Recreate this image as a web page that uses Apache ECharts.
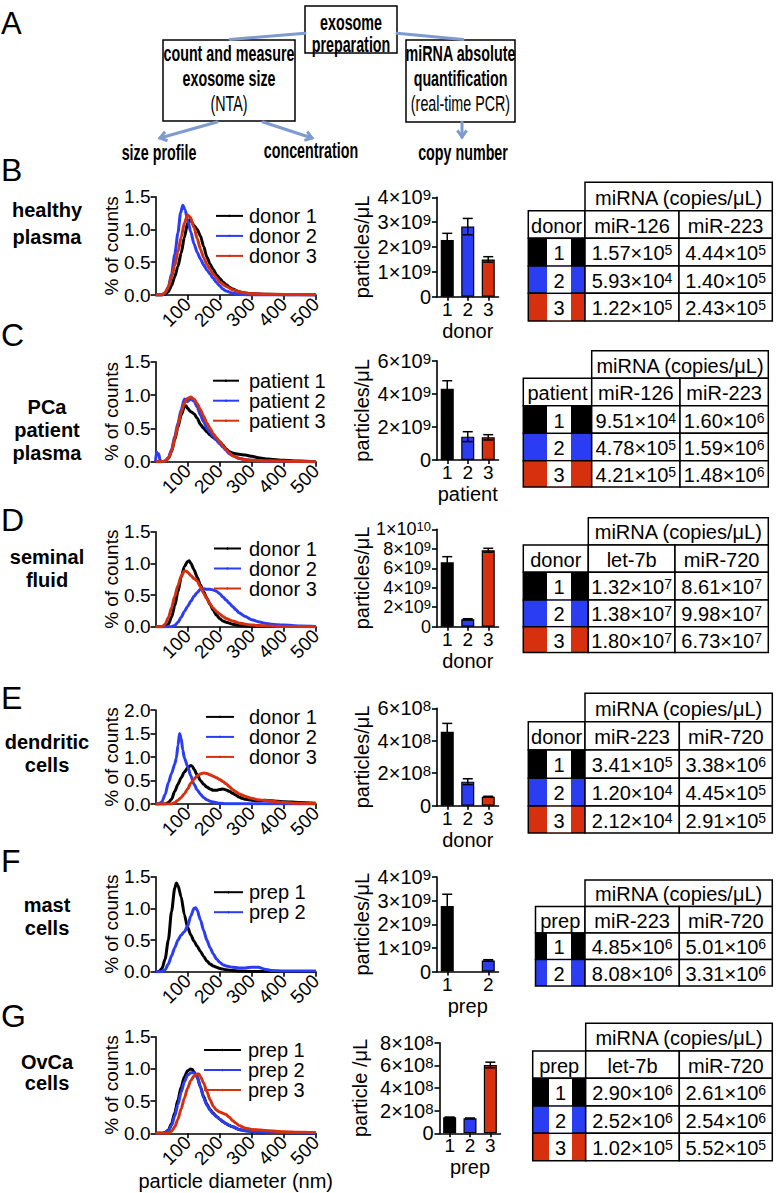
<!DOCTYPE html>
<html>
<head>
<meta charset="utf-8">
<title>Exosome characterization</title>
<script src="https://cdn.jsdelivr.net/npm/echarts@6.0.0/dist/echarts.min.js"></script>
<style>
html,body{margin:0;padding:0;background:#fff;}
#chart{width:780px;height:1193px;}
</style>
</head>
<body>
<div id="chart"></div>
<script>
const FONT = "'Liberation Sans', Arial, Helvetica, sans-serif";
const COLORS = ['#000000', '#2b3df2', '#d7300f'];
const ARROW_COLOR = '#7d9bcf';

// ---------- Panel A texts ----------
const A_TOP = ['exosome', 'preparation'];
const A_LEFT = ['count and measure', 'exosome size', '(NTA)'];
const A_RIGHT = ['miRNA absolute', 'quantification', '(real-time PCR)'];
const A_OUT = ['size profile', 'concentration', 'copy number'];
const TABLE_HEADER = 'miRNA (copies/\u03bcL)';

// ---------- B: healthy plasma ----------
const B_TITLE = ['healthy', 'plasma'];
const B_NAMES = ['donor 1', 'donor 2', 'donor 3'];
const B_SIZE_1 = [[0,0],[20,0],[30,0.01],[40,0.05],[50,0.14],[60,0.28],[70,0.44],[80,0.64],[90,0.88],[100,1.10],[106,1.15],[112,1.12],[120,1.06],[130,1.00],[140,0.90],[150,0.74],[160,0.58],[170,0.47],[180,0.39],[190,0.31],[200,0.25],[210,0.20],[220,0.16],[230,0.12],[240,0.09],[260,0.05],[280,0.03],[300,0.02],[350,0.01],[400,0.005],[500,0]];
const B_SIZE_2 = [[0,0],[20,0],[30,0.03],[40,0.12],[50,0.32],[60,0.62],[70,0.95],[78,1.25],[85,1.37],[92,1.30],[100,1.15],[110,0.96],[120,0.78],[130,0.65],[140,0.55],[150,0.46],[160,0.38],[170,0.32],[180,0.25],[190,0.19],[200,0.14],[210,0.09],[220,0.06],[240,0.03],[260,0.01],[300,0],[500,0]];
const B_SIZE_3 = [[0,0],[20,0],[30,0.04],[40,0.12],[50,0.27],[60,0.45],[70,0.66],[80,0.88],[90,1.10],[100,1.22],[108,1.19],[120,1.03],[130,0.86],[140,0.70],[150,0.57],[160,0.47],[170,0.39],[180,0.32],[190,0.26],[200,0.20],[220,0.13],[240,0.08],[260,0.05],[280,0.03],[300,0.02],[350,0.012],[400,0.008],[500,0.005]];
const B_CATS = ['1', '2', '3'];
const B_CONC = [2.28e9, 2.82e9, 1.50e9];
const B_ERR = [0.27e9, 0.33e9, 0.11e9];
const B_TICKS = ['0', '1\u00d710\u2079', '2\u00d710\u2079', '3\u00d710\u2079', '4\u00d710\u2079'];
const B_ROWHEAD = 'donor';
const B_MIRNA = ['miR-126', 'miR-223'];
const B_COPIES = [[1.57e5, 4.44e5], [5.93e4, 1.40e5], [1.22e5, 2.43e5]];

// ---------- C: PCa patient plasma ----------
const C_TITLE = ['PCa', 'patient', 'plasma'];
const C_NAMES = ['patient 1', 'patient 2', 'patient 3'];
const C_SIZE_1 = [[0,0],[20,0],[30,0.01],[40,0.05],[50,0.15],[60,0.33],[70,0.52],[80,0.70],[90,0.82],[95,0.84],[100,0.80],[110,0.75],[120,0.72],[130,0.65],[140,0.56],[150,0.50],[160,0.45],[170,0.40],[180,0.36],[190,0.33],[200,0.30],[210,0.25],[220,0.19],[230,0.15],[240,0.13],[250,0.12],[260,0.11],[280,0.10],[300,0.08],[320,0.06],[350,0.04],[400,0.02],[450,0.01],[500,0]];
const C_SIZE_2 = [[0,0],[3,0.15],[6,0.10],[10,0.12],[14,0.02],[20,0],[30,0.01],[40,0.06],[50,0.18],[60,0.38],[70,0.58],[80,0.78],[90,0.94],[95,0.93],[100,0.90],[110,0.94],[120,0.91],[130,0.82],[140,0.70],[150,0.60],[160,0.50],[170,0.44],[180,0.38],[190,0.32],[200,0.27],[210,0.22],[220,0.17],[230,0.12],[240,0.09],[260,0.05],[280,0.03],[300,0.02],[350,0.01],[500,0]];
const C_SIZE_3 = [[0,0],[20,0],[30,0.01],[40,0.05],[50,0.16],[60,0.35],[70,0.55],[80,0.74],[90,0.88],[100,0.95],[110,0.97],[120,0.94],[130,0.87],[140,0.78],[150,0.68],[160,0.58],[170,0.50],[180,0.42],[190,0.36],[200,0.30],[210,0.24],[220,0.18],[230,0.13],[240,0.09],[260,0.05],[280,0.03],[300,0.02],[350,0.01],[500,0]];
const C_CATS = ['1', '2', '3'];
const C_CONC = [4.31e9, 1.41e9, 1.37e9];
const C_ERR = [0.48e9, 0.30e9, 0.16e9];
const C_TICKS = ['0', '2\u00d710\u2079', '4\u00d710\u2079', '6\u00d710\u2079'];
const C_ROWHEAD = 'patient';
const C_MIRNA = ['miR-126', 'miR-223'];
const C_COPIES = [[9.51e4, 1.60e6], [4.78e5, 1.59e6], [4.21e5, 1.48e6]];

// ---------- D: seminal fluid ----------
const D_TITLE = ['seminal', 'fluid'];
const D_NAMES = ['donor 1', 'donor 2', 'donor 3'];
const D_SIZE_1 = [[0,0],[30,0],[40,0.04],[50,0.15],[60,0.33],[70,0.55],[80,0.78],[90,0.95],[100,1.03],[105,1.04],[110,1.00],[120,0.90],[130,0.78],[140,0.66],[150,0.55],[160,0.45],[170,0.35],[180,0.26],[190,0.18],[200,0.13],[210,0.09],[220,0.07],[240,0.04],[260,0.02],[280,0.01],[300,0.005],[500,0]];
const D_SIZE_2 = [[0,0],[50,0],[60,0.02],[70,0.07],[80,0.15],[90,0.24],[100,0.32],[110,0.40],[120,0.48],[130,0.54],[140,0.59],[150,0.60],[160,0.59],[170,0.59],[180,0.58],[190,0.56],[200,0.52],[210,0.47],[220,0.42],[230,0.37],[240,0.32],[250,0.27],[260,0.22],[280,0.16],[300,0.11],[320,0.08],[340,0.055],[360,0.04],[380,0.03],[400,0.025],[450,0.01],[500,0.005]];
const D_SIZE_3 = [[0,0],[20,0],[30,0.04],[40,0.14],[50,0.30],[60,0.48],[70,0.65],[80,0.80],[90,0.88],[95,0.88],[100,0.86],[110,0.81],[120,0.76],[130,0.72],[140,0.63],[150,0.53],[160,0.44],[170,0.36],[180,0.29],[190,0.24],[200,0.20],[210,0.16],[220,0.13],[240,0.09],[260,0.06],[280,0.04],[300,0.025],[350,0.01],[400,0.005],[500,0]];
const D_CATS = ['1', '2', '3'];
const D_CONC = [6.61e9, 0.76e9, 7.85e9];
const D_ERR = [0.58e9, 0.06e9, 0.20e9];
const D_TICKS = ['0', '2\u00d710\u2079', '4\u00d710\u2079', '6\u00d710\u2079', '8\u00d710\u2079', '1\u00d710\u00b9\u2070'];
const D_ROWHEAD = 'donor';
const D_MIRNA = ['let-7b', 'miR-720'];
const D_COPIES = [[1.32e7, 8.61e7], [1.38e7, 9.98e7], [1.80e7, 6.73e7]];

// ---------- E: dendritic cells ----------
const E_TITLE = ['dendritic', 'cells'];
const E_NAMES = ['donor 1', 'donor 2', 'donor 3'];
const E_SIZE_1 = [[0,0],[30,0],[40,0.03],[50,0.10],[60,0.27],[70,0.42],[80,0.56],[90,0.68],[100,0.77],[110,0.82],[115,0.80],[120,0.74],[130,0.62],[140,0.50],[150,0.42],[160,0.36],[170,0.32],[180,0.29],[190,0.29],[200,0.31],[210,0.32],[220,0.30],[230,0.27],[240,0.23],[250,0.19],[260,0.15],[270,0.12],[280,0.10],[300,0.08],[320,0.07],[340,0.08],[360,0.07],[380,0.06],[400,0.05],[450,0.03],[500,0.015]];
const E_SIZE_2 = [[0,0],[10,0],[20,0.05],[30,0.20],[40,0.45],[50,0.65],[60,0.85],[65,0.98],[70,1.25],[75,1.50],[80,1.40],[85,1.15],[90,0.98],[100,0.80],[110,0.60],[120,0.42],[130,0.30],[140,0.21],[150,0.14],[160,0.09],[170,0.06],[180,0.04],[200,0.015],[220,0.005],[500,0]];
const E_SIZE_3 = [[0,0],[50,0],[60,0.03],[70,0.08],[80,0.14],[90,0.22],[100,0.32],[110,0.44],[120,0.53],[130,0.60],[140,0.64],[150,0.66],[160,0.65],[170,0.62],[180,0.59],[190,0.56],[200,0.52],[210,0.48],[220,0.43],[230,0.37],[240,0.31],[250,0.26],[260,0.22],[270,0.19],[280,0.16],[300,0.12],[320,0.09],[340,0.075],[360,0.06],[380,0.045],[400,0.03],[450,0.015],[500,0.01]];
const E_CATS = ['1', '2', '3'];
const E_CONC = [4.56e8, 1.48e8, 0.55e8];
const E_ERR = [0.51e8, 0.18e8, 0.03e8];
const E_TICKS = ['0', '2\u00d710\u2078', '4\u00d710\u2078', '6\u00d710\u2078'];
const E_ROWHEAD = 'donor';
const E_MIRNA = ['miR-223', 'miR-720'];
const E_COPIES = [[3.41e5, 3.38e6], [1.20e4, 4.45e5], [2.12e4, 2.91e5]];

// ---------- F: mast cells ----------
const F_TITLE = ['mast', 'cells'];
const F_NAMES = ['prep 1', 'prep 2'];
const F_SIZE_1 = [[0,0],[10,0],[20,0.05],[30,0.20],[40,0.50],[50,0.95],[60,1.32],[65,1.40],[70,1.36],[80,1.18],[90,0.90],[100,0.70],[110,0.58],[120,0.48],[130,0.40],[140,0.32],[150,0.24],[160,0.17],[170,0.12],[180,0.09],[190,0.07],[200,0.05],[220,0.03],[240,0.02],[260,0.01],[300,0.005],[500,0]];
const F_SIZE_2 = [[0,0],[20,0],[30,0.03],[40,0.12],[50,0.25],[60,0.38],[70,0.50],[80,0.58],[90,0.63],[100,0.72],[110,0.88],[120,1.00],[125,1.01],[130,0.97],[140,0.82],[150,0.65],[160,0.50],[170,0.38],[180,0.28],[190,0.20],[200,0.15],[210,0.11],[220,0.09],[240,0.07],[260,0.06],[280,0.06],[300,0.07],[320,0.07],[340,0.04],[360,0.02],[400,0.01],[500,0.01]];
const F_CATS = ['1', '2'];
const F_CONC = [2.77e9, 0.47e9];
const F_ERR = [0.50e9, 0.03e9];
const F_TICKS = ['0', '1\u00d710\u2079', '2\u00d710\u2079', '3\u00d710\u2079', '4\u00d710\u2079'];
const F_ROWHEAD = 'prep';
const F_MIRNA = ['miR-223', 'miR-720'];
const F_COPIES = [[4.85e6, 5.01e6], [8.08e6, 3.31e6]];

// ---------- G: OvCa cells ----------
const G_TITLE = ['OvCa', 'cells'];
const G_NAMES = ['prep 1', 'prep 2', 'prep 3'];
const G_SIZE_1 = [[0,0],[20,0],[30,0.01],[40,0.05],[50,0.15],[60,0.32],[70,0.52],[80,0.72],[90,0.88],[100,0.97],[110,1.00],[115,0.99],[120,0.95],[130,0.87],[140,0.72],[150,0.57],[160,0.45],[170,0.37],[180,0.31],[190,0.26],[200,0.22],[210,0.18],[220,0.15],[230,0.12],[240,0.10],[260,0.06],[280,0.04],[300,0.03],[350,0.015],[400,0.01],[500,0]];
const G_SIZE_2 = [[0,0],[20,0],[30,0.01],[40,0.04],[50,0.12],[60,0.27],[70,0.45],[80,0.64],[90,0.80],[100,0.90],[110,0.94],[120,0.94],[130,0.88],[140,0.72],[150,0.55],[160,0.44],[170,0.36],[180,0.30],[190,0.26],[200,0.22],[220,0.15],[240,0.10],[260,0.06],[280,0.04],[300,0.03],[350,0.015],[400,0.01],[500,0]];
const G_SIZE_3 = [[0,0],[40,0],[50,0.03],[60,0.10],[70,0.22],[80,0.38],[90,0.55],[100,0.70],[110,0.82],[120,0.89],[130,0.92],[135,0.92],[140,0.88],[150,0.78],[160,0.65],[170,0.52],[180,0.42],[190,0.36],[200,0.33],[210,0.31],[220,0.29],[230,0.25],[240,0.20],[250,0.16],[260,0.12],[280,0.08],[300,0.06],[350,0.04],[400,0.025],[450,0.015],[500,0.01]];
const G_CATS = ['1', '2', '3'];
const G_CONC = [1.41e8, 1.32e8, 6.03e8];
const G_ERR = [0.02e8, 0.03e8, 0.25e8];
const G_TICKS = ['0', '2\u00d710\u2078', '4\u00d710\u2078', '6\u00d710\u2078', '8\u00d710\u2078'];
const G_ROWHEAD = 'prep';
const G_MIRNA = ['let-7b', 'miR-720'];
const G_COPIES = [[2.90e6, 2.61e6], [2.52e6, 2.54e6], [1.02e5, 5.52e5]];

// ---------- panel definitions (data refs + axis ranges) ----------
const PANELS = [
  {id:'B', title:B_TITLE, names:B_NAMES, sizes:[B_SIZE_1,B_SIZE_2,B_SIZE_3], yMax:1.5, cats:B_CATS, conc:B_CONC, err:B_ERR, ticks:B_TICKS, barMax:4e9, barInt:1e9, barY:'particles/\u03bcL', barX:'donor', rowHead:B_ROWHEAD, mirna:B_MIRNA, copies:B_COPIES},
  {id:'C', title:C_TITLE, names:C_NAMES, sizes:[C_SIZE_1,C_SIZE_2,C_SIZE_3], yMax:1.5, cats:C_CATS, conc:C_CONC, err:C_ERR, ticks:C_TICKS, barMax:6e9, barInt:2e9, barY:'particles/\u03bcL', barX:'patient', rowHead:C_ROWHEAD, mirna:C_MIRNA, copies:C_COPIES},
  {id:'D', title:D_TITLE, names:D_NAMES, sizes:[D_SIZE_1,D_SIZE_2,D_SIZE_3], yMax:1.5, cats:D_CATS, conc:D_CONC, err:D_ERR, ticks:D_TICKS, barMax:1e10, barInt:2e9, barY:'particles/\u03bcL', barX:'donor', rowHead:D_ROWHEAD, mirna:D_MIRNA, copies:D_COPIES},
  {id:'E', title:E_TITLE, names:E_NAMES, sizes:[E_SIZE_1,E_SIZE_2,E_SIZE_3], yMax:2.0, cats:E_CATS, conc:E_CONC, err:E_ERR, ticks:E_TICKS, barMax:6e8, barInt:2e8, barY:'particles/\u03bcL', barX:'donor', rowHead:E_ROWHEAD, mirna:E_MIRNA, copies:E_COPIES},
  {id:'F', title:F_TITLE, names:F_NAMES, sizes:[F_SIZE_1,F_SIZE_2], yMax:1.5, cats:F_CATS, conc:F_CONC, err:F_ERR, ticks:F_TICKS, barMax:4e9, barInt:1e9, barY:'particles/\u03bcL', barX:'prep', rowHead:F_ROWHEAD, mirna:F_MIRNA, copies:F_COPIES},
  {id:'G', title:G_TITLE, names:G_NAMES, sizes:[G_SIZE_1,G_SIZE_2,G_SIZE_3], yMax:1.5, cats:G_CATS, conc:G_CONC, err:G_ERR, ticks:G_TICKS, barMax:8e8, barInt:2e8, barY:'particle /\u03bcL', barX:'prep', rowHead:G_ROWHEAD, mirna:G_MIRNA, copies:G_COPIES, lineX:'particle diameter (nm)'}
];

// ---------- layout (pixels) ----------
const LAYOUT = {
  B:{letterY:170, titleY:[210,236.7], line:[196.7,98.3], bar:[437,197.3,61.5,99.4], barNameGap:65, barFs:[20,15], slots:[0,1,2],
     legend:{left:215,top:205.9,lh:18.3,w:27,pad:1},
     table:{x:[528.3,585,679,772.3], y:[182.3,210.7,238.3,266,293.3,321], wb:[547,571]}},
  C:{letterY:335, titleY:[406.7,430,452.7], line:[361.7,100], bar:[437,360.7,61.5,99.3], barNameGap:65, barFs:[20,15], slots:[0,1,2],
     legend:{left:212,top:370.7,lh:20,w:26,pad:5},
     table:{x:[523.3,591.7,680,768.3], y:[350.7,378.3,405.7,433.3,460.7,487], wb:[547,571]}},
  D:{letterY:520, titleY:[556.7,580], line:[531.7,95], bar:[437,529.3,61.5,97.4], barNameGap:65, barFs:[18,13], slots:[0,1,2],
     legend:{left:213,top:538.5,lh:17.7,w:27,pad:3},
     table:{x:[523.3,588.3,675,768.3], y:[517.7,545,572.3,600,626.7,652.5], wb:[547,571]}},
  E:{letterY:698, titleY:[741.7,765], line:[710,94], bar:[437,708.3,61.5,97.4], barNameGap:65, barFs:[20,15], slots:[0,1,2],
     legend:{left:205,top:706.9,lh:19.6,w:28,pad:10},
     table:{x:[528.3,585,679.3,772.3], y:[693.3,721.7,750,778.3,806,833], wb:[547,571]}},
  F:{letterY:861, titleY:[905,928], line:[876.7,95], bar:[437,877,61.5,94.5], barNameGap:65, barFs:[20,15], slots:[0,2],
     legend:{left:213,top:882.2,lh:19,w:29,pad:1},
     table:{x:[535.5,585,679.3,772.3], y:[880,906.5,933,959.5,986], wb:[547,571]}},
  G:{letterY:1016, titleY:[1062,1083], line:[1036.7,96.6], bar:[439.5,1042.7,61,90.6], barNameGap:70, barFs:[20,15], slots:[0,1,2],
     legend:{left:203,top:1040,lh:20,w:37,pad:2},
     table:{x:[532.7,585.7,679.3,772.3], y:[1023.3,1051,1078.3,1106,1133.3,1160.7], wb:[549,572]}}
};

// ---------- helpers ----------
const SUP = {'0':'\u2070','1':'\u00b9','2':'\u00b2','3':'\u00b3','4':'\u2074','5':'\u2075','6':'\u2076','7':'\u2077','8':'\u2078','9':'\u2079'};
const UNSUP = {};
Object.keys(SUP).forEach(k => { UNSUP[SUP[k]] = k; });
// "4×10⁹" -> rich text "{m|4×10}{s|9}"
function richSci(str) {
  const i = str.indexOf('\u00d710');
  if (i < 0) return '{m|' + str + '}';
  const base = str.slice(0, i + 3);
  const exp = str.slice(i + 3).split('').map(c => UNSUP[c] || c).join('');
  return '{m|' + base + '}{s|' + exp + '}';
}
// 1.57e5 -> rich text "{m|1.57×10}{s|5}"
function sciRich(v) {
  const parts = v.toExponential(2).split('e');
  return '{m|' + parts[0] + '\u00d710}{s|' + parseInt(parts[1], 10) + '}';
}
function richStyles(fs, sfs) {
  return {
    m:{fontSize:fs, fontFamily:FONT, fill:'#000', color:'#000'},
    s:{fontSize:sfs, fontFamily:FONT, fill:'#000', color:'#000', verticalAlign:'top'}
  };
}
function T(str, x, y, o) {
  o = o || {};
  const style = {text:str, x:0, y:0, fill:'#000', fontFamily:FONT, fontSize:o.fs || 20,
    fontWeight:o.fw || 'normal', align:o.align || 'center', verticalAlign:'middle'};
  if (o.rich) style.rich = o.rich;
  return {type:'text', x:x, y:y, scaleX:o.sx || 1, z:o.z || 100, silent:true, style:style};
}
function R(x, y, w, h, fill, stroke, z) {
  return {type:'rect', z:z || 50, silent:true, shape:{x:x, y:y, width:w, height:h},
    style:{fill:fill, stroke:stroke || null, lineWidth:stroke ? 1.5 : 0}};
}
function LN(x1, y1, x2, y2, color, w) {
  return {type:'line', z:60, silent:true, shape:{x1:x1, y1:y1, x2:x2, y2:y2},
    style:{stroke:color, lineWidth:w, lineCap:'round'}};
}
function ARROW(x1, y1, x2, y2) {
  const dx = x2 - x1, dy = y2 - y1, L = Math.hypot(dx, dy), bx = -dx / L, by = -dy / L;
  const a = 0.62, h = 8, c = Math.cos(a), s = Math.sin(a);
  const p1 = [x2 + h * (bx * c - by * s), y2 + h * (bx * s + by * c)];
  const p2 = [x2 + h * (bx * c + by * s), y2 + h * (-bx * s + by * c)];
  return [LN(x1, y1, x2, y2, ARROW_COLOR, 3),
    {type:'polyline', z:60, silent:true, shape:{points:[p1, [x2, y2], p2]},
     style:{stroke:ARROW_COLOR, lineWidth:3, fill:null, lineJoin:'miter'}}];
}

const TABLE_RICH = richStyles(20, 14);
function tableEls(p, t) {
  const els = [];
  const x = t.x, y = t.y, nRows = p.copies.length;
  els.push(R(x[1], y[0], x[3] - x[1], y[1] - y[0], '#fff', '#000'));
  els.push(T(TABLE_HEADER, (x[1] + x[3]) / 2, (y[0] + y[1]) / 2 + 1, {fs:20}));
  els.push(R(x[0], y[1], x[1] - x[0], y[2] - y[1], '#fff', '#000'));
  els.push(T(p.rowHead, (x[0] + x[1]) / 2, (y[1] + y[2]) / 2 + 1, {fs:20}));
  for (let c = 0; c < 2; c++) {
    els.push(R(x[c + 1], y[1], x[c + 2] - x[c + 1], y[2] - y[1], '#fff', '#000'));
    els.push(T(p.mirna[c], (x[c + 1] + x[c + 2]) / 2, (y[1] + y[2]) / 2 + 1, {fs:20}));
  }
  for (let r = 0; r < nRows; r++) {
    const top = y[2 + r], bot = y[3 + r], mid = (top + bot) / 2 + 1;
    els.push(R(x[0], top, x[1] - x[0], bot - top, COLORS[r], '#000'));
    els.push(R(t.wb[0], top + 0.75, t.wb[1] - t.wb[0], bot - top - 1.5, '#fff', null, 55));
    els.push(T(String(r + 1), (t.wb[0] + t.wb[1]) / 2, mid, {fs:20}));
    for (let c = 0; c < 2; c++) {
      els.push(R(x[c + 1], top, x[c + 2] - x[c + 1], bot - top, '#fff', '#000'));
      els.push(T(sciRich(p.copies[r][c]), (x[c + 1] + x[c + 2]) / 2, mid, {fs:20, rich:TABLE_RICH}));
    }
  }
  return els;
}

// ---------- build option ----------
const AX_LINE = {show:true, onZero:false, lineStyle:{color:'#000', width:1.6}};
const AX_TICK = {show:true, length:5, lineStyle:{color:'#000', width:1.6}};
const grid = [], xAxis = [], yAxis = [], series = [], legend = [], gfx = [];

PANELS.forEach((p, k) => {
  const Lp = LAYOUT[p.id];
  const li = 2 * k, bi = 2 * k + 1;
  grid.push({left:155.5, top:Lp.line[0], width:160.5, height:Lp.line[1], outerBoundsMode:'none', containLabel:false});
  grid.push({left:Lp.bar[0], top:Lp.bar[1], width:Lp.bar[2], height:Lp.bar[3], outerBoundsMode:'none', containLabel:false});

  xAxis.push({gridIndex:li, type:'value', min:0, max:500, interval:100,
    axisLine:AX_LINE, axisTick:AX_TICK, splitLine:{show:false},
    axisLabel:{show:true, rotate:45, fontSize:19, color:'#000', fontFamily:FONT, margin:6, showMinLabel:false, showMaxLabel:true},
    name:p.lineX || '', nameLocation:'middle', nameGap:38, nameMoveOverlap:false,
    nameTextStyle:{fontSize:20, color:'#000', fontFamily:FONT}});
  yAxis.push({gridIndex:li, type:'value', min:0, max:p.yMax, interval:0.5,
    axisLine:AX_LINE, axisTick:AX_TICK, splitLine:{show:false},
    axisLabel:{show:true, fontSize:19, color:'#000', fontFamily:FONT, margin:5, showMinLabel:true, showMaxLabel:true,
      formatter:v => v.toFixed(1)},
    name:'% of counts', nameLocation:'middle', nameGap:35, nameMoveOverlap:false,
    nameTextStyle:{fontSize:19, color:'#000', fontFamily:FONT}});

  // category slots: place each category in its slot (F leaves the middle slot empty)
  const nSlots = 3;
  const slotCats = new Array(nSlots).fill('');
  const slotVals = new Array(nSlots).fill('-');
  Lp.slots.forEach((s, i) => { slotCats[s] = p.cats[i]; slotVals[s] = {value:p.conc[i], itemStyle:{color:COLORS[i]}}; });

  xAxis.push({gridIndex:bi, type:'category', data:slotCats,
    axisLine:AX_LINE,
    axisTick:{show:true, alignWithLabel:true, length:4, lineStyle:{color:'#000', width:1.6},
      interval:(idx, val) => val !== ''},
    axisLabel:{show:true, fontSize:19, color:'#000', fontFamily:FONT, margin:3, interval:0},
    splitLine:{show:false},
    name:p.barX, nameLocation:'middle', nameGap:24, nameMoveOverlap:false,
    nameTextStyle:{fontSize:20, color:'#000', fontFamily:FONT}});
  yAxis.push({gridIndex:bi, type:'value', min:0, max:p.barMax, interval:p.barInt,
    axisLine:AX_LINE, axisTick:AX_TICK, splitLine:{show:false},
    axisLabel:{show:true, fontSize:Lp.barFs[0], color:'#000', fontFamily:FONT, margin:6,
      showMinLabel:true, showMaxLabel:true, hideOverlap:false,
      formatter:v => richSci(p.ticks[Math.round(v / p.barInt)]), rich:richStyles(Lp.barFs[0], Lp.barFs[1])},
    name:p.barY, nameLocation:'middle', nameGap:Lp.barNameGap, nameMoveOverlap:false,
    nameTextStyle:{fontSize:20, color:'#000', fontFamily:FONT}});

  p.sizes.forEach((d, i) => {
    series.push({type:'line', name:p.names[i], xAxisIndex:li, yAxisIndex:li, data:d,
      symbol:'none', smooth:0.25, smoothMonotone:'x', clip:true, z:2 + i,
      lineStyle:{width:3, color:COLORS[i]}, itemStyle:{color:COLORS[i]},
      emphasis:{disabled:true}, silent:true});
  });
  series.push({type:'bar', xAxisIndex:bi, yAxisIndex:bi, barWidth:13, silent:true,
    data:slotVals,
    itemStyle:{borderColor:'#000', borderWidth:1.2}, emphasis:{disabled:true}, z:2});
  series.push({type:'custom', xAxisIndex:bi, yAxisIndex:bi, silent:true, z:5, clip:false,
    encode:{x:0, y:1},
    data:p.conc.map((v, i) => [Lp.slots[i], v, p.err[i]]),
    renderItem:(params, api) => {
      const i = api.value(0), v = api.value(1), e = api.value(2);
      const hi = api.coord([i, v + e]), lo = api.coord([i, v - e]);
      const w = 5, st = {stroke:'#000', lineWidth:1.5};
      return {type:'group', children:[
        {type:'line', shape:{x1:hi[0], y1:lo[1], x2:hi[0], y2:hi[1]}, style:st},
        {type:'line', shape:{x1:hi[0] - w, y1:hi[1], x2:hi[0] + w, y2:hi[1]}, style:st},
        {type:'line', shape:{x1:lo[0] - w, y1:lo[1], x2:lo[0] + w, y2:lo[1]}, style:st}
      ]};
    }});

  const lg = Lp.legend;
  legend.push({data:p.names, orient:'vertical', left:lg.left, top:lg.top, padding:0, itemGap:0,
    itemWidth:lg.w, itemHeight:3, selectedMode:false,
    textStyle:{fontSize:20, color:'#000', fontFamily:FONT, lineHeight:lg.lh, padding:[0, 0, 0, lg.pad]}});

  gfx.push(T(p.id, 1, Lp.letterY, {fs:32, align:'left'}));
  p.title.forEach((s, i) => gfx.push(T(s, 47, Lp.titleY[i], {fs:20, fw:'bold'})));
  tableEls(p, Lp.table).forEach(e => gfx.push(e));
});

// ---------- Panel A diagram ----------
const SX = 0.65;
gfx.push(T('A', 1, 23, {fs:31, align:'left'}));
gfx.push(R(305, 6, 92, 47, '#fff', '#000'));
gfx.push(T(A_TOP[0], 351, 22, {fs:22, fw:'bold', sx:SX}));
gfx.push(T(A_TOP[1], 351, 44, {fs:22, fw:'bold', sx:SX}));
gfx.push(R(163, 40, 132, 81, '#fff', '#000'));
gfx.push(T(A_LEFT[0], 229, 53, {fs:22, fw:'bold', sx:SX}));
gfx.push(T(A_LEFT[1], 229, 78, {fs:22, fw:'bold', sx:SX}));
gfx.push(T(A_LEFT[2], 229, 103, {fs:22, sx:SX}));
gfx.push(R(406, 40, 109, 82, '#fff', '#000'));
gfx.push(T(A_RIGHT[0], 460.5, 53, {fs:22, fw:'bold', sx:SX}));
gfx.push(T(A_RIGHT[1], 460.5, 78, {fs:22, fw:'bold', sx:SX}));
gfx.push(T(A_RIGHT[2], 460.5, 103, {fs:22, sx:SX}));
gfx.push(LN(230, 39.5, 305, 33.3, ARROW_COLOR, 3));
gfx.push(LN(397, 33.3, 463, 39.5, ARROW_COLOR, 3));
ARROW(217, 122, 160, 138).forEach(e => gfx.push(e));
ARROW(263, 122, 312, 138).forEach(e => gfx.push(e));
ARROW(462, 122, 462, 137).forEach(e => gfx.push(e));
gfx.push(T(A_OUT[0], 159, 152, {fs:22, fw:'bold', sx:SX}));
gfx.push(T(A_OUT[1], 311, 150, {fs:22, fw:'bold', sx:SX}));
gfx.push(T(A_OUT[2], 463, 152, {fs:22, fw:'bold', sx:SX}));

const option = {
  animation:false,
  backgroundColor:'#fff',
  textStyle:{fontFamily:FONT, color:'#000'},
  tooltip:{show:false},
  grid:grid, xAxis:xAxis, yAxis:yAxis, series:series, legend:legend,
  graphic:{elements:gfx}
};

const chart = echarts.init(document.getElementById('chart'), null, {renderer:'svg', width:780, height:1193});
chart.setOption(option);
</script>
</body>
</html>
